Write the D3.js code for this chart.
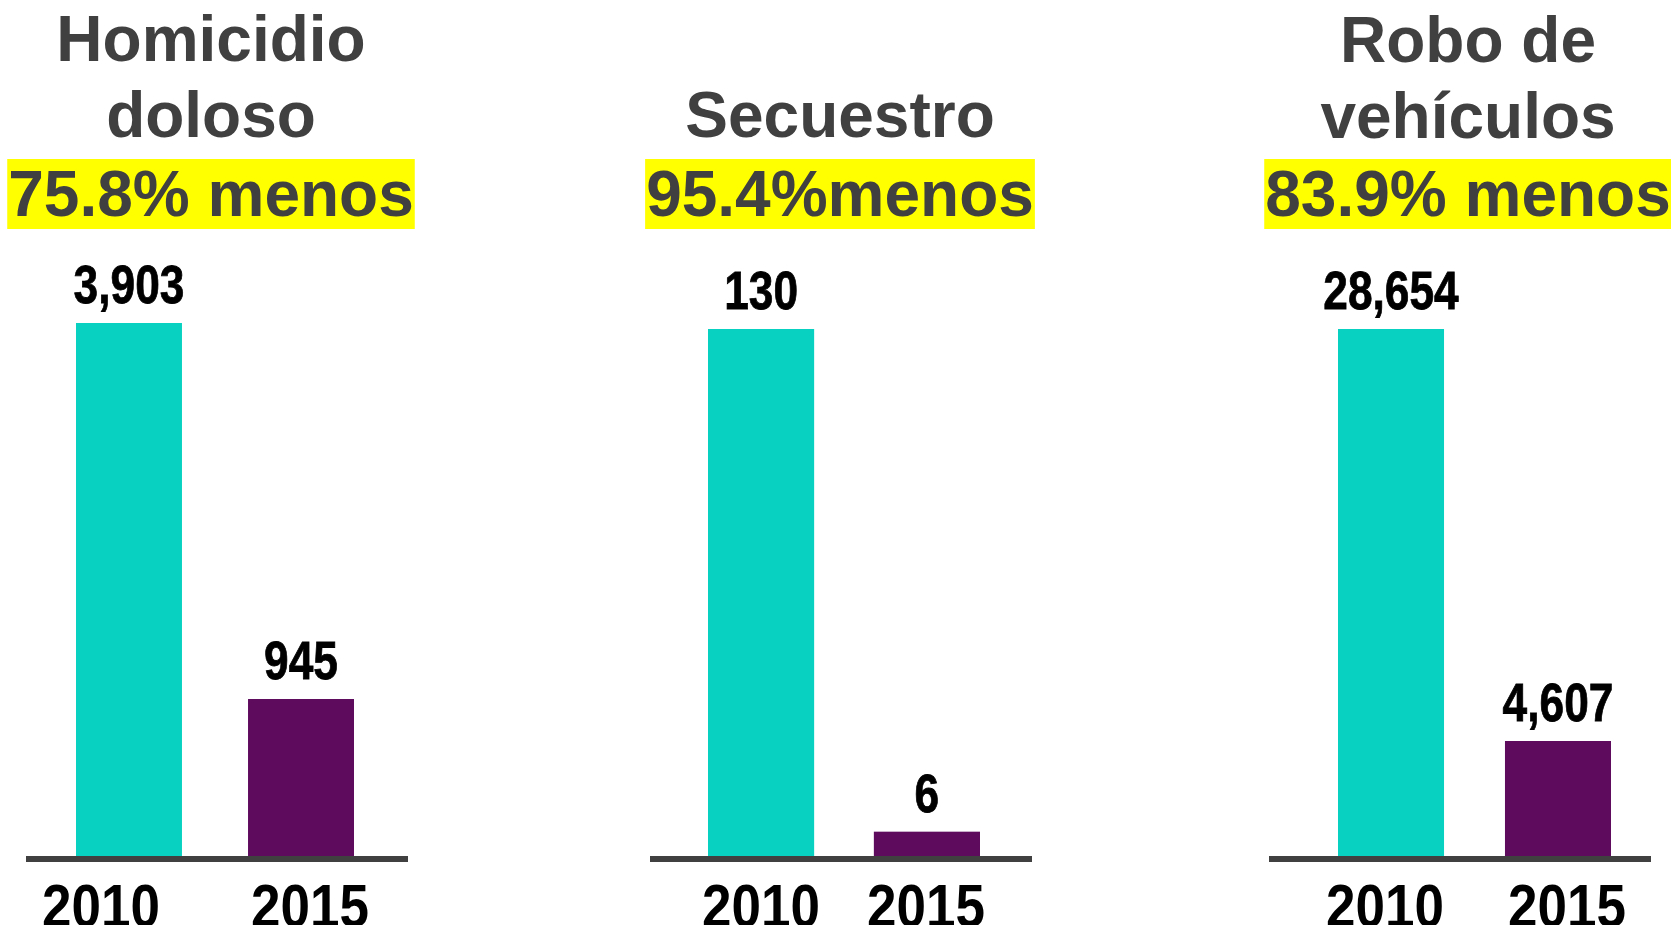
<!DOCTYPE html>
<html>
<head>
<meta charset="utf-8">
<script src="https://cdn.jsdelivr.net/npm/d3@7"></script>
<style>
  body { margin: 0; background: #fff; }
</style>
</head>
<body>
<div id="chart"></div>
<script>
const width = 1671;
const height = 925;

// Data
const years = ["2010", "2015"];
const crimes = [["Homicidio", "doloso"], ["Secuestro"], ["Robo de", "vehículos"]];
const reductions = ["75.8% menos", "95.4%menos", "83.9% menos"];
const values2010 = [3903, 130, 28654];
const values2015 = [945, 6, 4607];
// lower end of each panel's value axis (the original charts do not start at zero)
const domainMin = [-290, 0, -2105];

// Layout of the three panels
const panels = [
    {center: 211, bars: [76, 354], pad: 0.384, labels: [101, 310], axis: [26, 408], top: 323, titleY: [61, 137]},
    {center: 840, bars: [708, 980], pad: 0.36, labels: [761, 926], axis: [650, 1032], top: 329, titleY: [137]},
    {center: 1468, bars: [1338, 1611], pad: 0.365, labels: [1385, 1567], axis: [1269, 1651], top: 329, titleY: [62, 138]}
];
const baseY = 856;
const colors = ["#08d1c1", "#5e0b5e"];
const font = "'Liberation Sans', Arial, sans-serif";

const svg = d3.select("#chart").append("svg")
    .attr("width", width)
    .attr("height", height)
    .attr("viewBox", [0, 0, width, height]);

panels.forEach((p, i) => {
    const g = svg.append("g");
    const vals = [values2010[i], values2015[i]];

    const x = d3.scaleBand()
        .domain(years)
        .range(p.bars)
        .paddingInner(p.pad)
        .paddingOuter(0);

    const xLabel = d3.scalePoint()
        .domain(years)
        .range(p.labels);

    const y = d3.scaleLinear()
        .domain([domainMin[i], d3.max(vals)])
        .range([baseY, p.top]);

    // Title lines
    g.selectAll("text.title")
        .data(crimes[i])
        .join("text")
        .attr("class", "title")
        .attr("x", p.center)
        .attr("y", (d, j) => p.titleY[j])
        .attr("text-anchor", "middle")
        .attr("font-family", font)
        .attr("font-weight", "bold")
        .attr("font-size", 64)
        .attr("fill", "#404040")
        .text(d => d);

    // Highlighted reduction
    const hl = g.append("g");
    const hlText = hl.append("text")
        .attr("x", p.center)
        .attr("y", 216)
        .attr("text-anchor", "middle")
        .attr("font-family", font)
        .attr("font-weight", "bold")
        .attr("font-size", 64)
        .attr("fill", "#404040")
        .text(reductions[i]);
    const tw = hlText.node().getComputedTextLength();
    hl.insert("rect", "text")
        .attr("x", p.center - tw / 2 - 1)
        .attr("y", 159)
        .attr("width", tw + 2)
        .attr("height", 70)
        .attr("fill", "#ffff00");

    // Bars
    g.selectAll("rect.bar")
        .data(vals)
        .join("rect")
        .attr("class", "bar")
        .attr("x", (d, j) => x(years[j]))
        .attr("y", d => y(d))
        .attr("width", x.bandwidth())
        .attr("height", d => y(domainMin[i]) - y(d))
        .attr("fill", (d, j) => colors[j]);

    // Value labels (narrow face: Arial scaled horizontally, thickened a bit)
    g.selectAll("text.value")
        .data(vals)
        .join("text")
        .attr("class", "value")
        .attr("transform", (d, j) => `translate(${x(years[j]) + x.bandwidth() / 2},${y(d) - 20}) scale(0.82,1)`)
        .attr("text-anchor", "middle")
        .attr("font-family", font)
        .attr("font-weight", "bold")
        .attr("font-size", 54)
        .attr("fill", "#000")
        .attr("stroke", "#000")
        .attr("stroke-width", 0.8)
        .text(d => d3.format(",")(d));

    // Baseline
    g.append("line")
        .attr("x1", p.axis[0])
        .attr("x2", p.axis[1])
        .attr("y1", baseY + 3)
        .attr("y2", baseY + 3)
        .attr("stroke", "#404040")
        .attr("stroke-width", 6);

    // Year labels
    g.selectAll("text.year")
        .data(years)
        .join("text")
        .attr("class", "year")
        .attr("transform", d => `translate(${xLabel(d)},927) scale(1,1.15)`)
        .attr("text-anchor", "middle")
        .attr("font-family", font)
        .attr("font-weight", "bold")
        .attr("font-size", 53)
        .attr("fill", "#000")
        .text(d => d);
});
</script>
</body>
</html>
